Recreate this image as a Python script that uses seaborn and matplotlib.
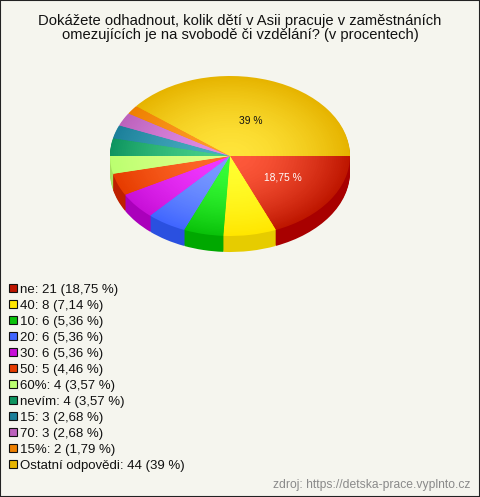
import matplotlib
matplotlib.use('Agg')
import matplotlib.pyplot as plt
import numpy as np
import seaborn as sns
from matplotlib.patches import Rectangle

title = 'Dokážete odhadnout, kolik dětí v Asii pracuje v zaměstnáních\nomezujících je na svobodě či vzdělání? (v procentech)'
source = 'zdroj: https://detska-prace.vyplnto.cz'
answers = ['ne', '40', '10', '20', '30', '50', '60%', 'nevím', '15', '70', '15%', 'Ostatní odpovědi']
counts = [21, 8, 6, 6, 6, 5, 4, 4, 3, 3, 2, 44]
shares = ['18,75', '7,14', '5,36', '5,36', '5,36', '4,46', '3,57', '3,57', '2,68', '2,68', '1,79', '39']

# rim / centre / side wall colour of each slice
rim = ['#BE1600', '#FFE600', '#0AC20A', '#4166FF', '#C810D8', '#E63C00',
       '#BBFF70', '#0E9560', '#1C7F9A', '#BC62BC', '#EE8000', '#E6B400']
centre = ['#FF5A3C', '#FFFF30', '#38FF38', '#7C9CFF', '#F238FF', '#FF6A2A',
          '#DCFF88', '#48D088', '#48AEC0', '#E08CE4', '#FF9C28', '#FFE43A']
side = ['#A80000', '#E6CC00', '#00A800', '#2A50E0', '#AA00BB', '#BE2000',
        '#A8E060', '#087A4C', '#146A80', '#9C4C9C', '#C86A00', '#C49400']

bg = '#F5F5EE'
sns.set_theme(style='white', rc={'figure.facecolor': bg, 'axes.facecolor': bg})
plt.rcParams['font.family'] = ['Liberation Sans', 'DejaVu Sans']

fig = plt.figure(figsize=(4.8, 4.97), dpi=100)
ax = fig.add_axes([0, 0, 1, 1])
wedge = {'linewidth': 0}

# side wall: same pie stacked downwards
for depth in np.linspace(0.2, 0.0125, 16):
    ax.pie(counts, colors=side, startangle=0, counterclock=False,
           center=(0, -depth), wedgeprops=wedge)

# top face: shrinking pies give the radial gradient
steps = 40
ramps = [sns.blend_palette([a, b], steps) for a, b in zip(rim, centre)]
for i, r in enumerate(np.linspace(1, 0.005, steps) ** 0.6):
    ax.pie(counts, colors=[p[i] for p in ramps], startangle=0, counterclock=False,
           radius=r, wedgeprops=wedge)

# pie() forces equal aspect, the ellipse is 120 x 80 px
ax.set_aspect('auto')
ax.set_xlim(-230 / 120, 250 / 120)
ax.set_ylim((156 - 497) / 80, 156 / 80)
ax.axis('off')

ax.text(0.44, -0.275, '18,75 %', color='white', fontsize=7.4, ha='center', va='center')
ax.text(0.175, 0.44, '39 %', color='#111111', fontsize=7.4, ha='center', va='center')

fig.text(0.5, 1 - 28 / 497, title, ha='center', va='center', fontsize=10.6,
         color='#111111', linespacing=1.05)
fig.text(470 / 480, 1 - 485 / 497, source, ha='right', va='center', fontsize=8.77, color='#8A8A8A')

handles = [Rectangle((0, 0), 1, 1, facecolor=c, edgecolor='#111111', linewidth=0.8) for c in rim]
labels = ['{}: {} ({} %)'.format(a, c, s) for a, c, s in zip(answers, counts, shares)]
fig.legend(handles, labels, loc='upper left', bbox_to_anchor=(9 / 480, 1 - 284 / 497),
           frameon=False, fontsize=9.5, labelcolor='#111111', handlelength=0.58, handleheight=0.58,
           handletextpad=0.27, labelspacing=0.303, borderaxespad=0, borderpad=0)

fig.add_artist(Rectangle((0, 0), 1, 1, transform=fig.transFigure, fill=False,
                         edgecolor='#222222', linewidth=1.5))
fig.savefig('out.png', dpi=100, facecolor=bg)
